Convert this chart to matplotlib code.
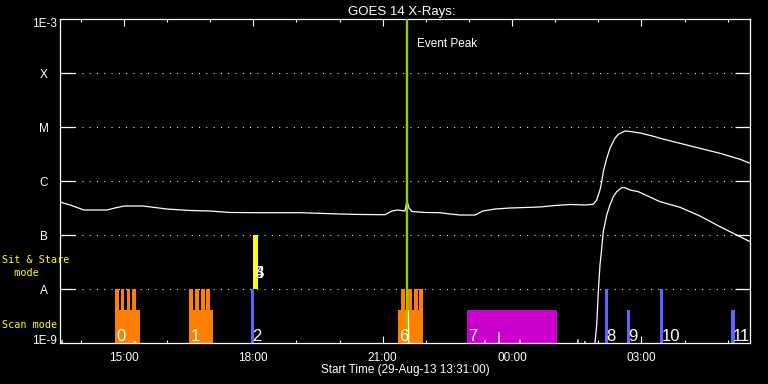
import matplotlib
matplotlib.use('Agg')
import matplotlib.pyplot as plt
import matplotlib.transforms as mtransforms
import numpy as np

plt.rcParams['font.family'] = ['Liberation Sans', 'DejaVu Sans']
plt.rcParams['lines.scale_dashes'] = False

# ---------------- data ----------------
# time in hours since 29-Aug-2013 00:00
t_start = 13.0 + 31.0 / 60.0
t_span = 16.0
event_peak = 21.556

xtick_major = [15, 18, 21, 24, 27]
xtick_labels = ['15:00', '18:00', '21:00', '00:00', '03:00']
xtick_minor = list(range(14, 30))

class_levels = [1e-8, 1e-7, 1e-6, 1e-5, 1e-4]
class_labels = ['A', 'B', 'C', 'M', 'X']

# GOES long channel (1-8 A), log10 flux
long_t = [13.517, 13.749, 14.073, 14.606, 14.792, 15.001, 15.441, 15.720, 15.998,
          16.531, 16.995, 17.459, 18.154, 19.082, 20.009, 20.473, 21.053, 21.215,
          21.355, 21.516, 21.563, 21.609, 21.679, 21.980, 22.328, 22.560, 22.792,
          23.140, 23.325, 23.604, 23.951, 24.299, 24.647, 24.995, 25.343, 25.690,
          25.883, 25.962, 26.038, 26.078, 26.115, 26.194, 26.270, 26.386, 26.463,
          26.618, 26.773, 27.005, 27.314, 27.430, 27.894, 28.357, 28.821, 29.285,
          29.517]
long_logf = [-6.389, -6.444, -6.537, -6.537, -6.500, -6.463, -6.463, -6.491, -6.519,
             -6.546, -6.556, -6.583, -6.587, -6.587, -6.611, -6.620, -6.624, -6.556,
             -6.537, -6.556, -6.370, -6.500, -6.565, -6.583, -6.587, -6.611, -6.630,
             -6.630, -6.556, -6.519, -6.500, -6.491, -6.481, -6.454, -6.435, -6.444,
             -6.431, -6.352, -6.167, -6.013, -5.828, -5.580, -5.394, -5.209, -5.135,
             -5.074, -5.087, -5.117, -5.180, -5.209, -5.302, -5.395, -5.487, -5.598,
             -5.672]

# GOES short channel (0.5-4 A), log10 flux (values below -9 are off the chart)
short_t = [13.517, 13.540, 13.565, 13.590, 15.240, 15.256, 15.272, 21.575, 21.593,
           21.611, 23.355, 23.372, 23.389, 23.680, 23.697, 23.714, 24.167, 24.184,
           24.201, 25.511, 25.528, 25.545, 25.673, 25.690, 25.707, 25.900, 25.922,
           25.962, 25.999, 26.038, 26.078, 26.115, 26.194, 26.270, 26.347, 26.425,
           26.541, 26.618, 26.734, 26.927, 27.430, 27.894, 28.357, 28.821, 29.208,
           29.517]
short_logf = [-8.76, -9.3, -8.95, -9.3, -9.3, -8.97, -9.3, -9.3, -8.41,
              -9.3, -9.3, -8.95, -9.3, -9.3, -8.81, -9.3, -9.3, -8.94,
              -9.3, -9.3, -8.94, -9.3, -9.3, -8.97, -9.3, -9.3, -9.0,
              -8.667, -8.050, -7.556, -7.246, -6.939, -6.630, -6.444, -6.291, -6.198,
              -6.124, -6.124, -6.167, -6.198, -6.383, -6.487, -6.648, -6.846, -7.000,
              -7.124]

# observations
obs_labels = ['0', '1', '2', '3', '4', '5', '6', '7', '8', '9', '10', '11']
obs_start = [14.792, 16.508, 17.939, 17.999, 17.999, 17.999, 21.347, 22.947,
             26.154, 26.664, 27.430, 29.076]
obs_end = [15.372, 17.071, 18.015, 18.101, 18.101, 18.101, 21.934, 25.034,
           26.224, 26.734, 27.499, 29.169]
obs_top = [4.1e-9, 4.1e-9, 1e-8, 1e-7, 1e-7, 1e-7, 4.1e-9, 4.1e-9,
           1e-8, 4.1e-9, 1e-8, 4.1e-9]
obs_mode = ['scan', 'scan', 'scan', 'sit', 'sit', 'sit', 'scan', 'scan',
            'scan', 'scan', 'scan', 'scan']
obs_color = ['#FF8000', '#FF8000', '#6262FF', '#FFFF00', '#FFFF00', '#FFFF00',
             '#FF8000', '#CC00CC', '#6262FF', '#6262FF', '#6262FF', '#6262FF']

# raster sub-observations (tall orange fingers)
raster_start = [14.792, 14.931, 15.059, 15.186,
                16.508, 16.647, 16.779, 16.909,
                21.424, 21.580, 21.715, 21.850]
raster_end = [14.885, 15.012, 15.140, 15.279,
              16.608, 16.740, 16.872, 17.002,
              21.520, 21.673, 21.808, 21.934]
raster_top = 1e-8

# ---------------- figure ----------------
W, H = 768, 384
fig = plt.figure(figsize=(W / 100, H / 100), dpi=100, facecolor='black')
ax = fig.add_axes([60 / W, (H - 343) / H, 690 / W, 324 / H])
ax.set_facecolor('black')
ax.set_yscale('log')
ax.set_ylim(1e-9, 1e-3)
ax.set_xlim(t_start, t_start + t_span)

for s in ax.spines.values():
    s.set_color('white')
    s.set_linewidth(0.9)

# grid lines
for lv in class_levels:
    ax.axhline(lv, color='white', lw=0.8, dashes=(0.7, 4.55), zorder=1)

# bars
bottoms = np.array([1e-9 if m == 'scan' else 1e-8 for m in obs_mode])
ax.bar(x=obs_start, height=np.array(obs_top) - bottoms,
       width=np.array(obs_end) - np.array(obs_start), bottom=bottoms,
       align='edge', color=obs_color, linewidth=0, zorder=2)
ax.bar(x=raster_start, height=raster_top - 1e-9,
       width=np.array(raster_end) - np.array(raster_start), bottom=1e-9,
       align='edge', color='#FF8000', linewidth=0, zorder=2)

# curves
ax.plot(long_t, 10 ** np.array(long_logf), color='white', lw=0.9, zorder=4)
ax.plot(short_t, 10 ** np.array(short_logf), color='white', lw=0.9, zorder=4)

# event peak
ax.axvline(event_peak, color='#99CC00', lw=1.7, zorder=5)
ax.text(event_peak + 0.24, 0.926, 'Event Peak', color='white', fontsize=8.5,
        ha='left', va='center_baseline',
        transform=mtransforms.blended_transform_factory(ax.transData, ax.transAxes))

# observation labels
for lab, s, m in zip(obs_labels, obs_start, obs_mode):
    y = 10 ** -8.963 if m == 'scan' else 10 ** -7.796
    ax.text(s + 0.03, y, lab, color='white', fontsize=12, ha='left',
            va='baseline', zorder=6)

# ticks
ax.set_xticks(xtick_major)
ax.set_xticklabels(xtick_labels)
ax.set_xticks(xtick_minor, minor=True)
ax.tick_params(axis='x', which='major', direction='in', length=4.8, width=0.8,
               colors='white', top=True, bottom=True, labelsize=8.5, pad=6.3)
ax.tick_params(axis='x', which='minor', direction='in', length=2.4, width=0.8,
               colors='white', top=True, bottom=True)
ax.set_yticks(class_levels)
ax.set_yticks([], minor=True)
ax.set_yticklabels([])
ax.tick_params(axis='y', which='major', direction='in', length=10.8, width=0.9,
               colors='white', left=True, right=True)

# y labels
ytr = mtransforms.blended_transform_factory(fig.transFigure, ax.transData)
for lv, lab in zip(class_levels, class_labels):
    fig.text(43.5 / W, lv, lab, color='white', fontsize=8.5, ha='center',
             va='center_baseline', transform=ytr)
fig.text(57 / W, 10 ** -3.074, '1E-3', color='white', fontsize=8.5, ha='right',
         va='center_baseline', transform=ytr)
fig.text(56.5 / W, 10 ** -8.944, '1E-9', color='white', fontsize=8.5, ha='right',
         va='center_baseline', transform=ytr)

# mode labels (monospaced like the original vector font)
mono = ['DejaVu Sans Mono']
fig.text(2 / W, 1 - 259 / H, 'Sit & Stare', color='#FFFF00', fontsize=7.3,
         family=mono, ha='left', va='center_baseline')
fig.text(2 / W, 1 - 272 / H, '  mode', color='#FFFF00', fontsize=7.3,
         family=mono, ha='left', va='center_baseline')
fig.text(2 / W, 1 - 323.5 / H, 'Scan mode', color='#FFFF00', fontsize=7.3,
         family=mono, ha='left', va='center_baseline')

# title and x label
fig.text(402 / W, 1 - 10 / H, 'GOES 14 X-Rays:', color='white', fontsize=9.5,
         ha='center', va='center_baseline')
fig.text(405 / W, 1 - 368.5 / H, 'Start Time (29-Aug-13 13:31:00)', color='white',
         fontsize=8.5, ha='center', va='center_baseline')

fig.savefig('out.png', dpi=100, facecolor='black')
